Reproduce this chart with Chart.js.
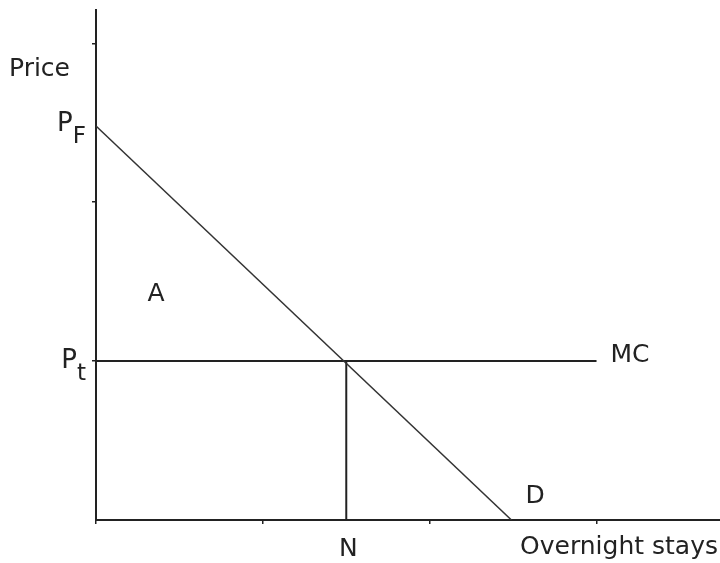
<!DOCTYPE html>
<html>
<head>
<meta charset="utf-8">
<script src="https://cdn.jsdelivr.net/npm/chart.js@4/dist/chart.umd.min.js"></script>
<style>
  html, body { margin: 0; padding: 0; background: #fff; }
  #wrap { width: 720px; height: 563px; }
</style>
</head>
<body>
<div id="wrap"><canvas id="myChart" width="720" height="563"></canvas></div>
<script>
// demand curve D (end points)
const demandX = [0, 2.49];
const demandY = [2.48, 0];
// marginal cost MC
const mcX = [0, 3];
const mcY = [1, 1];
// quantity N at the price Pt
const nX = [1.5, 1.5];
const nY = [0, 1];

const xMax = 3.74;
const yMax = 3.21;

const FONT = '"DejaVu Sans", sans-serif';
const INK = '#222';

function toPoints(xs, ys) {
  return xs.map((x, i) => ({x: x, y: ys[i]}));
}

function lineSet(xs, ys, color, width) {
  return {
    data: toPoints(xs, ys),
    showLine: true,
    borderColor: color,
    borderWidth: width,
    pointRadius: 0,
    fill: false,
    tension: 0
  };
}

// only whole units get a tick mark
function tickColor(skipZero) {
  return c => {
    const v = c.tick ? c.tick.value : 0;
    if (!Number.isInteger(v) || (skipZero && v === 0)) return 'rgba(0,0,0,0)';
    return '#222';
  };
}

//labels drawn on the canvas, anchored to the scales
const labelsPlugin = {
  id: 'labels',
  afterDraw(chart) {
    const ctx = chart.ctx;
    const xs = chart.scales.x;
    const ys = chart.scales.y;
    const area = chart.chartArea;
    ctx.save();
    ctx.fillStyle = INK;
    ctx.textBaseline = 'alphabetic';

    const big = '25px ' + FONT;
    const sub = '23px ' + FONT;

    // axis titles
    ctx.font = big;
    ctx.textAlign = 'left';
    ctx.fillText('Price', 9, ys.getPixelForValue(yMax) + 66);
    ctx.textAlign = 'right';
    ctx.fillText('Overnight stays', area.right - 2, area.bottom + 34);

    // P with subscript
    function pSub(letter, yVal, dy) {
      const base = ys.getPixelForValue(yVal) + dy;
      ctx.font = sub;
      ctx.textAlign = 'right';
      ctx.fillText(letter, area.left - 10, base + 12);
      const w = ctx.measureText(letter).width;
      ctx.font = '26px ' + FONT;
      ctx.fillText('P', area.left - 10 - w, base);
    }
    pSub('F', demandY[0], 5);
    pSub('t', mcY[0], 7);

    ctx.font = big;
    ctx.textAlign = 'center';
    ctx.fillText('N', xs.getPixelForValue(nX[0]) + 2, area.bottom + 36);
    ctx.fillText('A', xs.getPixelForValue(0.36), ys.getPixelForValue(1.38));

    ctx.textAlign = 'left';
    ctx.fillText('MC', xs.getPixelForValue(mcX[1]) + 14, ys.getPixelForValue(mcY[1]) + 1);
    ctx.fillText('D', xs.getPixelForValue(demandX[1]) + 14, ys.getPixelForValue(0) - 17);
    ctx.restore();
  }
};

const data = {
  datasets: [
    lineSet(demandX, demandY, '#333', 1.5),
    lineSet(mcX, mcY, '#222', 2),
    lineSet(nX, nY, '#222', 2)
  ]
};

const config = {
  type: 'scatter',
  data,
  plugins: [labelsPlugin],
  options: {
    responsive: false,
    animation: false,
    layout: {padding: {top: 10, left: 0, right: 0, bottom: 0}},
    plugins: {
      legend: {display: false},
      tooltip: {enabled: false}
    },
    scales: {
      x: {
        type: 'linear',
        min: 0,
        max: xMax,
        afterFit: s => { s.height = 43; },
        ticks: {display: false, stepSize: 1},
        grid: {drawOnChartArea: false, drawTicks: true, tickLength: 4, lineWidth: 1.5, color: tickColor(false)},
        border: {color: '#222', width: 2}
      },
      y: {
        type: 'linear',
        min: 0,
        max: yMax,
        afterFit: s => { s.width = 96; },
        ticks: {display: false, stepSize: 1},
        grid: {drawOnChartArea: false, drawTicks: true, tickLength: 4, lineWidth: 1.5, color: tickColor(true)},
        border: {color: '#222', width: 2}
      }
    }
  }
};

const myChart = new Chart(document.getElementById('myChart'), config);
</script>
</body>
</html>
